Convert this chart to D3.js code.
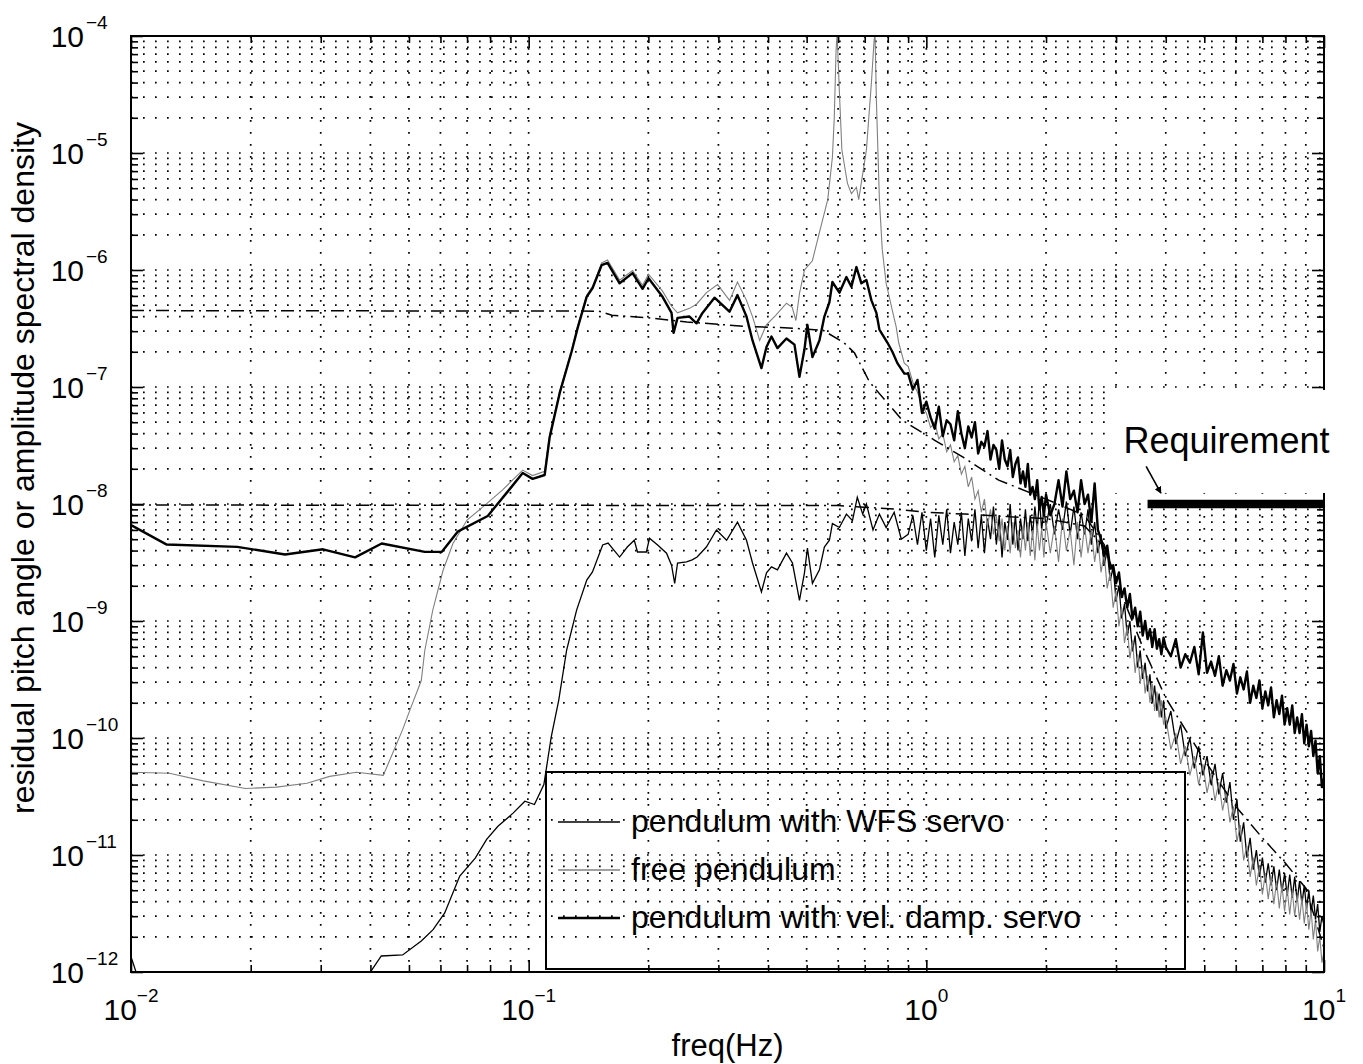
<!DOCTYPE html>
<html>
<head>
<meta charset="utf-8">
<script src="https://cdn.jsdelivr.net/npm/d3@7"></script>
<style>
  body { margin: 0; background: #fff; }
  text { font-family: "Liberation Sans", Arial, Helvetica, sans-serif; fill: #000; }
</style>
</head>
<body>
<div id="chart"></div>
<script>
// ---- data: [freq (Hz), amplitude] ----

// pendulum with vel. damp. servo (thick black), low-frequency part
var velDampLow = [
  [0.0100,6.6e-9],[0.0123,4.5e-9],[0.0185,4.3e-9],[0.0244,3.7e-9],[0.0304,4.1e-9],[0.0366,3.5e-9],
  [0.0427,4.6e-9],[0.0548,3.9e-9],[0.0605,3.9e-9],[0.0663,5.8e-9],[0.0789,7.9e-9],[0.0896,1.34e-8],
  [0.0966,1.84e-8],[0.1023,1.64e-8],[0.1097,1.77e-8],[0.1129,3.7e-8],[0.1197,8.9e-8],[0.1282,2.0e-7],
  [0.1328,3.2e-7],[0.1399,5.9e-7],[0.1448,7.0e-7],[0.1526,1.10e-6],[0.1579,1.15e-6],[0.1693,7.7e-7],
  [0.1825,9.4e-7],[0.1934,6.9e-7],[0.2002,8.5e-7],[0.2171,5.9e-7],[0.2287,4.3e-7],[0.2314,2.9e-7],
  [0.2368,3.9e-7],[0.2538,4.0e-7],[0.2643,3.5e-7],[0.2736,4.3e-7],[0.2933,5.8e-7],[0.3199,4.4e-7],
  [0.3350,6.1e-7],[0.3530,4.0e-7],[0.3655,2.5e-7],[0.3849,1.45e-7],[0.3963,2.2e-7],[0.4079,2.7e-7],
  [0.4223,2.15e-7],[0.4449,2.6e-7],[0.4660,2.3e-7],[0.4797,1.22e-7],[0.4938,2.1e-7],[0.5023,3.4e-7],
  [0.5171,1.8e-7],[0.5385,2.5e-7],[0.5541,4.0e-7],[0.5705,5.3e-7],[0.5805,7.9e-7],[0.6045,6.4e-7],
  [0.6295,8.7e-7],[0.6480,7.2e-7],[0.6671,1.06e-6],[0.6866,7.7e-7],[0.7068,8.2e-7],[0.7276,5.5e-7],
  [0.7489,4.3e-7],[0.7620,3.1e-7],[0.7980,2.4e-7],[0.8215,2.0e-7],[0.8456,1.6e-7],[0.8806,1.3e-7]
];

// pendulum with WFS servo (thin black), low-frequency part
var wfsLow = [
  [0.0100,1.35e-12],[0.0104,9e-13],[0.0110,4e-13],[0.0380,5e-13],[0.0400,1.0e-12],[0.0426,1.37e-12],
  [0.0482,1.4e-12],[0.0537,1.84e-12],[0.0575,2.3e-12],[0.0615,3.2e-12],[0.0671,6.6e-12],[0.0734,9.4e-12],
  [0.0784,1.36e-11],[0.0837,1.76e-11],[0.0915,2.29e-11],[0.0978,2.88e-11],[0.1034,2.7e-11],[0.1092,4.0e-11],
  [0.1140,1.03e-10],[0.1190,2.1e-10],[0.1246,5.65e-10],[0.1320,1.24e-9],[0.1400,2.24e-9],[0.1447,2.63e-9],
  [0.1535,4.47e-9],[0.1584,4.64e-9],[0.1693,3.52e-9],[0.1770,4.29e-9],[0.1843,4.9e-9],[0.1878,3.89e-9],
  [0.1977,3.89e-9],[0.2013,5.1e-9],[0.2110,4.47e-9],[0.2222,3.8e-9],[0.2287,3.0e-9],[0.2329,2.1e-9],
  [0.2368,3.13e-9],[0.2494,3.2e-9],[0.2577,3.33e-9],[0.2652,3.52e-9],[0.2798,4.29e-9],[0.2966,6.0e-9],
  [0.3146,4.9e-9],[0.3350,7.0e-9],[0.3530,4.9e-9],[0.3655,3.13e-9],[0.3849,1.77e-9],[0.3963,2.58e-9],
  [0.4079,2.9e-9],[0.4223,2.74e-9],[0.4449,3.8e-9],[0.4606,3.13e-9],[0.4797,1.5e-9],[0.4938,2.58e-9],
  [0.5023,4.2e-9],[0.5171,2.1e-9],[0.5385,2.74e-9],[0.5541,4.29e-9],[0.5705,4.9e-9],[0.5805,6.8e-9],
  [0.6045,6.3e-9],[0.6295,8.2e-9],[0.6520,7.2e-9],[0.6705,1.14e-8],[0.6918,8.2e-9],[0.7068,1.0e-8],
  [0.7343,6.0e-9],[0.7620,8.2e-9],[0.7923,6.3e-9],[0.8300,8.5e-9],[0.8650,5.0e-9]
];

// free pendulum (grey), low-frequency part
var freeLow = [
  [0.0100,5.1e-11],[0.0125,5.0e-11],[0.0152,4.3e-11],[0.0194,3.7e-11],[0.0232,3.8e-11],[0.0277,4.1e-11],
  [0.0316,4.7e-11],[0.0369,5.1e-11],[0.0431,4.8e-11],[0.0482,1.18e-10],[0.0503,1.74e-10],[0.0537,3.1e-10],
  [0.0548,5.6e-10],[0.0574,1.24e-9],[0.0609,2.7e-9],[0.0645,4.6e-9],[0.0700,7.3e-9],[0.0766,9.4e-9],
  [0.0860,1.32e-8],[0.0966,1.95e-8],[0.1023,1.75e-8],[0.1097,1.9e-8],[0.1129,3.9e-8],[0.1197,9.2e-8],
  [0.1282,2.05e-7],[0.1328,3.3e-7],[0.1399,6.1e-7],[0.1448,7.3e-7],[0.1526,1.15e-6],[0.1579,1.22e-6],
  [0.1693,8.2e-7],[0.1825,9.9e-7],[0.1934,7.4e-7],[0.2002,9.2e-7],[0.2171,6.6e-7],[0.2287,4.9e-7],
  [0.2368,4.3e-7],[0.2538,4.7e-7],[0.2643,5.1e-7],[0.2800,6.4e-7],[0.2986,7.5e-7],[0.3200,5.5e-7],
  [0.3350,7.9e-7],[0.3530,5.5e-7],[0.3655,4.0e-7],[0.3810,2.5e-7],[0.3960,3.4e-7],[0.4180,4.1e-7],
  [0.4450,5.2e-7],[0.4600,4.8e-7],[0.4700,3.7e-7],[0.4797,6.3e-7],[0.4938,1.0e-6],[0.5170,1.2e-6],
  [0.5385,2.1e-6],[0.5650,4.0e-6],[0.5805,9.2e-6],[0.5868,2.0e-5],[0.5930,7.6e-5],[0.5966,1.05e-4],
  [0.6045,3.3e-5],[0.6133,1.06e-5],[0.6334,5.5e-6],[0.6480,4.5e-6],[0.6671,5.1e-6],[0.6760,4.0e-6],
  [0.7068,1.06e-5],[0.7276,4.0e-5],[0.7390,9.2e-5],[0.7430,1.05e-4],[0.7489,2.8e-5],[0.7620,4.0e-6],
  [0.7747,1.5e-6],[0.7923,7.7e-7],[0.8215,4.5e-7],[0.8393,3.3e-7],[0.8520,2.4e-7],[0.8800,1.6e-7]
];

// high-frequency bins shared by the three measured spectra
var hiFreq = [
  0.900,0.925,0.950,0.975,1.000,1.025,1.050,1.075,1.100,1.125,1.150,1.175,1.200,1.225,1.250,1.275,
  1.300,1.325,1.350,1.375,1.400,1.425,1.450,1.475,1.500,1.525,1.550,1.575,1.600,1.625,1.650,1.675,
  1.700,1.725,1.750,1.775,1.800,1.825,1.850,1.875,1.900,1.925,1.950,1.975,
  2.00,2.05,2.10,2.15,2.20,2.25,2.30,2.35,2.40,2.45,2.50,2.55,2.60,2.65,2.70,2.75,2.80,2.85,2.90,2.95,
  3.00,3.05,3.10,3.15,3.20,3.25,3.30,3.35,3.40,3.45,3.50,3.55,3.60,3.65,3.70,3.75,3.80,3.85,3.90,3.95,
  4.00,4.12,4.24,4.36,4.48,4.60,4.72,4.84,4.96,5.08,5.20,5.32,5.44,5.56,5.68,5.80,5.92,6.04,6.16,6.28,
  6.40,6.52,6.64,6.76,6.88,7.00,7.12,7.24,7.36,7.48,7.60,7.72,7.84,7.96,8.08,8.20,8.32,8.44,8.56,8.68,
  8.80,8.92,9.04,9.16,9.28,9.40,9.52,9.64,9.76,9.88,10.0
];

var velDampHi = [
  1.3e-7,9.5e-8,1.15e-7,6.0e-8,7.5e-8,5.5e-8,4.4e-8,6.8e-8,3.8e-8,5.2e-8,4.8e-8,3.5e-8,6.2e-8,4.0e-8,
  3.0e-8,4.6e-8,3.7e-8,5.0e-8,2.7e-8,3.4e-8,3.1e-8,4.2e-8,2.4e-8,3.2e-8,2.9e-8,2.0e-8,3.5e-8,2.4e-8,
  2.1e-8,2.9e-8,1.7e-8,2.2e-8,2.5e-8,1.5e-8,1.9e-8,1.4e-8,2.2e-8,1.2e-8,1.4e-8,1.1e-8,1.6e-8,9.0e-9,
  1.15e-8,8.0e-9,
  1.2e-8,8.0e-9,1.0e-8,1.6e-8,9.5e-9,1.9e-8,1.1e-8,1.3e-8,8.5e-9,1.6e-8,1.0e-8,1.2e-8,7.0e-9,1.5e-8,
  6.0e-9,5.0e-9,3.6e-9,4.4e-9,2.8e-9,3.0e-9,2.1e-9,2.6e-9,1.6e-9,1.9e-9,1.3e-9,1.7e-9,1.05e-9,1.3e-9,
  9.0e-10,1.2e-9,7.5e-10,1.0e-9,7.0e-10,8.5e-10,6.0e-10,8.5e-10,5.8e-10,7.0e-10,5.2e-10,7.2e-10,
  6.0e-10,5.0e-10,7.0e-10,4.0e-10,5.2e-10,4.4e-10,6.0e-10,3.5e-10,8.0e-10,3.6e-10,4.5e-10,3.4e-10,
  5.0e-10,2.8e-10,3.8e-10,3.1e-10,4.3e-10,2.4e-10,3.3e-10,2.6e-10,3.7e-10,2.0e-10,2.8e-10,2.2e-10,
  3.1e-10,1.8e-10,2.5e-10,1.9e-10,2.7e-10,1.5e-10,2.1e-10,1.6e-10,2.3e-10,1.3e-10,1.8e-10,1.3e-10,
  1.9e-10,1.1e-10,1.5e-10,1.1e-10,1.6e-10,9.0e-11,1.3e-10,8.5e-11,1.15e-10,7.0e-11,9.5e-11,5.0e-11,
  7.0e-11,3.8e-11,4.5e-11
];

var freeHi = [
  1.5e-7,1.1e-7,9.0e-8,7.0e-8,6.0e-8,4.5e-8,5.0e-8,3.6e-8,4.0e-8,2.8e-8,3.2e-8,2.3e-8,2.6e-8,1.8e-8,
  2.1e-8,1.4e-8,1.7e-8,1.1e-8,1.3e-8,8.5e-9,1.1e-8,6.5e-9,9.0e-9,5.5e-9,8.0e-9,4.8e-9,7.5e-9,4.0e-9,
  6.5e-9,3.8e-9,7.0e-9,4.2e-9,6.0e-9,3.5e-9,6.5e-9,4.0e-9,7.0e-9,3.6e-9,6.0e-9,3.3e-9,6.8e-9,4.0e-9,
  6.2e-9,3.5e-9,
  7.0e-9,3.8e-9,6.5e-9,3.2e-9,7.5e-9,4.0e-9,6.0e-9,3.0e-9,7.0e-9,3.5e-9,6.5e-9,3.8e-9,6.0e-9,3.2e-9,
  5.0e-9,2.6e-9,3.8e-9,1.9e-9,2.6e-9,1.3e-9,1.8e-9,9.0e-10,1.3e-9,6.5e-10,9.0e-10,4.8e-10,6.8e-10,3.6e-10,
  5.2e-10,2.9e-10,4.2e-10,2.4e-10,3.4e-10,2.0e-10,2.9e-10,1.7e-10,2.5e-10,1.5e-10,2.1e-10,1.3e-10,
  1.5e-10,8.0e-11,1.1e-10,6.0e-11,8.5e-11,4.8e-11,7.0e-11,4.0e-11,6.0e-11,3.4e-11,5.0e-11,2.9e-11,
  4.2e-11,2.4e-11,3.5e-11,1.9e-11,2.6e-11,1.3e-11,1.8e-11,9.0e-12,1.2e-11,6.5e-12,9.5e-12,5.5e-12,
  8.0e-12,4.6e-12,7.0e-12,4.2e-12,6.5e-12,3.8e-12,6.0e-12,3.5e-12,5.5e-12,3.3e-12,5.2e-12,3.1e-12,
  5.0e-12,3.0e-12,4.6e-12,2.8e-12,4.3e-12,2.6e-12,3.9e-12,2.3e-12,3.4e-12,1.9e-12,2.8e-12,1.5e-12,
  2.0e-12,1.2e-12,1.5e-12
];

var wfsHi = [
  5.5e-9,8.0e-9,4.5e-9,8.5e-9,4.0e-9,7.5e-9,3.5e-9,8.0e-9,4.5e-9,9.0e-9,3.8e-9,7.0e-9,4.5e-9,8.5e-9,
  3.6e-9,7.5e-9,4.8e-9,9.0e-9,4.2e-9,8.0e-9,3.8e-9,7.5e-9,5.0e-9,9.5e-9,4.5e-9,8.0e-9,3.5e-9,7.0e-9,
  5.0e-9,1.0e-8,4.5e-9,8.0e-9,4.0e-9,7.5e-9,5.0e-9,9.0e-9,4.8e-9,8.0e-9,5.5e-9,9.5e-9,6.0e-9,1.1e-8,
  6.0e-9,9.0e-9,
  6.5e-9,1.0e-8,5.5e-9,9.0e-9,6.0e-9,1.05e-8,5.5e-9,9.5e-9,5.0e-9,8.5e-9,5.5e-9,9.0e-9,4.5e-9,7.0e-9,
  3.8e-9,5.5e-9,3.0e-9,4.0e-9,2.2e-9,2.9e-9,1.5e-9,2.0e-9,1.05e-9,1.4e-9,7.5e-10,1.0e-9,5.5e-10,7.5e-10,
  4.0e-10,5.6e-10,3.2e-10,4.4e-10,2.5e-10,3.5e-10,2.0e-10,2.8e-10,1.7e-10,2.4e-10,1.5e-10,2.1e-10,
  1.2e-10,1.7e-10,9.0e-11,1.3e-10,7.0e-11,1.0e-10,5.5e-11,8.5e-11,4.8e-11,7.0e-11,4.0e-11,6.0e-11,
  3.3e-11,5.0e-11,2.8e-11,4.2e-11,2.0e-11,3.0e-11,1.3e-11,1.9e-11,9.5e-12,1.4e-11,7.5e-12,1.1e-11,
  6.5e-12,9.5e-12,5.8e-12,8.5e-12,5.5e-12,8.0e-12,5.0e-12,7.5e-12,4.8e-12,7.0e-12,4.5e-12,6.8e-12,
  4.3e-12,6.5e-12,4.0e-12,6.0e-12,3.8e-12,5.5e-12,3.5e-12,5.0e-12,3.2e-12,4.5e-12,2.8e-12,3.8e-12,
  2.2e-12,3.0e-12,2.5e-12
];

// model curves (dash-dot)
var velDampModel = [
  [0.01,4.5e-7],[0.15,4.45e-7],[0.162,4.1e-7],[0.2,3.9e-7],[0.25,3.6e-7],[0.35,3.3e-7],[0.45,3.2e-7],
  [0.55,3.05e-7],[0.62,2.4e-7],[0.66,1.95e-7],[0.72,1.1e-7],[0.87,5.2e-8],[1.05,3.5e-8],[1.24,2.5e-8],
  [1.52,1.6e-8],[2.0,1.1e-8],[2.5,8e-9],[2.8,4.5e-9],[3.0,2.2e-9],[3.5,6e-10],[4,2.2e-10],[5,6.5e-11],
  [6,2.6e-11],[7,1.4e-11],[8,8.5e-12],[9,5.2e-12],[10,1.6e-12]
];
var wfsModel = [
  [0.01,9.8e-9],[0.6,9.7e-9],[0.85,9.0e-9],[1.0,8.5e-9],[1.25,8.2e-9],[1.6,7.8e-9],[2.0,7.5e-9],
  [2.5,6.5e-9],[2.8,4.3e-9],[3.0,2.3e-9]
];

// requirement
var reqFreq = [3.6, 10];
var reqLevel = 1e-8;
var reqArrow = [[3.57, 2.1e-8], [3.89, 1.24e-8]];
var reqLabelAt = [3.13, 2.73e-8];

// axes
var xExp = [-2, -1, 0, 1];
var yExp = [-12, -11, -10, -9, -8, -7, -6, -5, -4];
var xLabel = "freq(Hz)";
var yLabel = "residual pitch angle or amplitude spectral density";
var legendLabels = ["pendulum with WFS servo", "free pendulum", "pendulum with vel. damp. servo"];

function joinHi(low, hi) {
  var n = Math.min(hiFreq.length, hi.length);
  return low.concat(hiFreq.slice(0, n).map(function(f, i) { return [f, hi[i]]; }));
}
var velDamp = joinHi(velDampLow, velDampHi);
var free = joinHi(freeLow, freeHi);
var wfs = joinHi(wfsLow, wfsHi);

// ---- layout ----
var W = 1363, H = 1064;
var margin = {top: 36, right: 39, bottom: 92, left: 131};
var width = W - margin.left - margin.right;
var height = H - margin.top - margin.bottom;

var svg = d3.select("#chart").append("svg")
    .attr("width", W)
    .attr("height", H)
    .style("background", "#fff");

var g = svg.append("g")
    .attr("transform", "translate(" + margin.left + "," + margin.top + ")");

var x = d3.scaleLog().domain([1e-2, 1e1]).range([0, width]);
var y = d3.scaleLog().domain([1e-12, 1e-4]).range([height, 0]);

var xMajor = xExp.map(function(e) { return Math.pow(10, e); });
var yMajor = yExp.map(function(e) { return Math.pow(10, e); });
function minors(exps) {
  var out = [];
  for (var i = 0; i < exps.length - 1; i++)
    for (var k = 2; k < 10; k++) out.push(k * Math.pow(10, exps[i]));
  return out;
}
var xMinor = minors(xExp);
var yMinor = minors(yExp);

g.append("clipPath").attr("id", "plot-clip")
  .append("rect").attr("width", width).attr("height", height);

// dotted grid (major and minor)
var grid = g.append("g").attr("class", "grid")
    .attr("stroke", "#000")
    .attr("stroke-width", 1.7)
    .attr("stroke-dasharray", "1.7,10.3");

grid.selectAll("line.gx")
  .data(xMinor.concat(xMajor.slice(1, -1)))
  .enter().append("line")
    .attr("class", "gx")
    .attr("x1", function(d) { return x(d); })
    .attr("x2", function(d) { return x(d); })
    .attr("y1", 0).attr("y2", height);

grid.selectAll("line.gy")
  .data(yMinor.concat(yMajor.slice(1, -1)))
  .enter().append("line")
    .attr("class", "gy")
    .attr("y1", function(d) { return y(d); })
    .attr("y2", function(d) { return y(d); })
    .attr("x1", 0).attr("x2", width);

// curves
var line = d3.line()
    .x(function(d) { return x(d[0]); })
    .y(function(d) { return y(d[1]); });

var plot = g.append("g").attr("clip-path", "url(#plot-clip)");

plot.append("path").datum(wfs)
    .attr("d", line).attr("fill", "none")
    .attr("stroke", "#000").attr("stroke-width", 1.3);

plot.append("path").datum(free)
    .attr("d", line).attr("fill", "none")
    .attr("stroke", "#808080").attr("stroke-width", 1.1);

[velDampModel, wfsModel].forEach(function(m) {
  plot.append("path").datum(m)
      .attr("d", line).attr("fill", "none")
      .attr("stroke", "#000").attr("stroke-width", 1.5)
      .attr("stroke-dasharray", "13,5,2,5");
});

plot.append("path").datum(velDamp)
    .attr("d", line).attr("fill", "none")
    .attr("stroke", "#000").attr("stroke-width", 2.4)
    .attr("stroke-linejoin", "round");

// ticks on all four sides, pointing inward
function ticks(gen, vals, size) {
  return gen.tickValues(vals).tickSize(size).tickSizeOuter(0).tickFormat("");
}
function addTicks(gen, translate) {
  var a = g.append("g").attr("transform", translate);
  a.call(gen);
  a.select(".domain").remove();
  a.selectAll("line").attr("stroke", "#000").attr("stroke-width", 1.6);
}
[[12, xMajor], [7, xMinor]].forEach(function(t) {
  addTicks(ticks(d3.axisBottom(x), t[1], -t[0]), "translate(0," + height + ")");
  addTicks(ticks(d3.axisTop(x), t[1], -t[0]), "translate(0,0)");
});
[[12, yMajor], [7, yMinor]].forEach(function(t) {
  addTicks(ticks(d3.axisLeft(y), t[1], -t[0]), "translate(0,0)");
  addTicks(ticks(d3.axisRight(y), t[1], -t[0]), "translate(" + width + ",0)");
});

g.append("rect")
    .attr("width", width).attr("height", height)
    .attr("fill", "none").attr("stroke", "#000").attr("stroke-width", 2);

// tick labels 10^n
function expText(e) { return e < 0 ? "\u2212" + (-e) : String(e); }

xExp.forEach(function(e) {
  var t = g.append("text")
      .attr("x", x(Math.pow(10, e)))
      .attr("y", height + 48)
      .attr("text-anchor", "middle")
      .attr("font-size", 30);
  t.append("tspan").text("10");
  t.append("tspan").attr("font-size", 19).attr("dy", -18).text(expText(e));
});

// y labels: the "10" is right-aligned, the exponent hangs after it
yExp.forEach(function(e) {
  var yy = y(Math.pow(10, e)) + 11;
  g.append("text")
      .attr("x", -47)
      .attr("y", yy)
      .attr("text-anchor", "end")
      .attr("font-size", 30)
      .text("10");
  g.append("text")
      .attr("x", -45)
      .attr("y", yy - 18)
      .attr("font-size", 19)
      .text(expText(e));
});

// axis titles
g.append("text")
    .attr("x", width / 2)
    .attr("y", height + 84)
    .attr("text-anchor", "middle")
    .attr("font-size", 31)
    .text(xLabel);

g.append("text")
    .attr("transform", "translate(" + (-97) + "," + (height / 2 - 36) + ") rotate(-90)")
    .attr("text-anchor", "middle")
    .attr("font-size", 32)
    .text(yLabel);

// requirement annotation
var reqText = g.append("text")
    .attr("x", x(reqLabelAt[0]))
    .attr("y", y(reqLabelAt[1]))
    .attr("font-size", 36)
    .text("Requirement");
var bb = reqText.node().getBBox();
g.insert("rect", function() { return reqText.node(); })
    .attr("x", bb.x - 10)
    .attr("y", bb.y - 30)
    .attr("width", bb.width + 22)
    .attr("height", bb.height + 62)
    .attr("fill", "#fff");

svg.append("defs").append("marker")
    .attr("id", "arrowhead")
    .attr("viewBox", "0 0 10 10")
    .attr("refX", 9).attr("refY", 5)
    .attr("markerWidth", 7).attr("markerHeight", 7)
    .attr("markerUnits", "userSpaceOnUse")
    .attr("orient", "auto")
  .append("path").attr("d", "M0,0 L10,5 L0,10 z").attr("fill", "#000");

g.append("line")
    .attr("x1", x(reqArrow[0][0])).attr("y1", y(reqArrow[0][1]))
    .attr("x2", x(reqArrow[1][0])).attr("y2", y(reqArrow[1][1]))
    .attr("stroke", "#000").attr("stroke-width", 1.6)
    .attr("marker-end", "url(#arrowhead)");

g.append("line")
    .attr("x1", x(reqFreq[0])).attr("x2", x(reqFreq[1]))
    .attr("y1", y(reqLevel)).attr("y2", y(reqLevel))
    .attr("stroke", "#000").attr("stroke-width", 8.5);

// legend (transparent box, like the original)
var legendStyles = [
  {stroke: "#000", w: 1.4},
  {stroke: "#808080", w: 1.3},
  {stroke: "#000", w: 2.4}
];
var lg = svg.append("g").attr("transform", "translate(546,772)");
lg.append("rect")
    .attr("width", 639).attr("height", 197)
    .attr("fill", "none").attr("stroke", "#000").attr("stroke-width", 2);
legendLabels.forEach(function(label, i) {
  var cy = 50 + i * 48;
  lg.append("line")
      .attr("x1", 12).attr("x2", 74)
      .attr("y1", cy).attr("y2", cy)
      .attr("stroke", legendStyles[i].stroke)
      .attr("stroke-width", legendStyles[i].w);
  lg.append("text")
      .attr("x", 85).attr("y", cy + 10)
      .attr("font-size", 32)
      .text(label);
});
</script>
</body>
</html>
